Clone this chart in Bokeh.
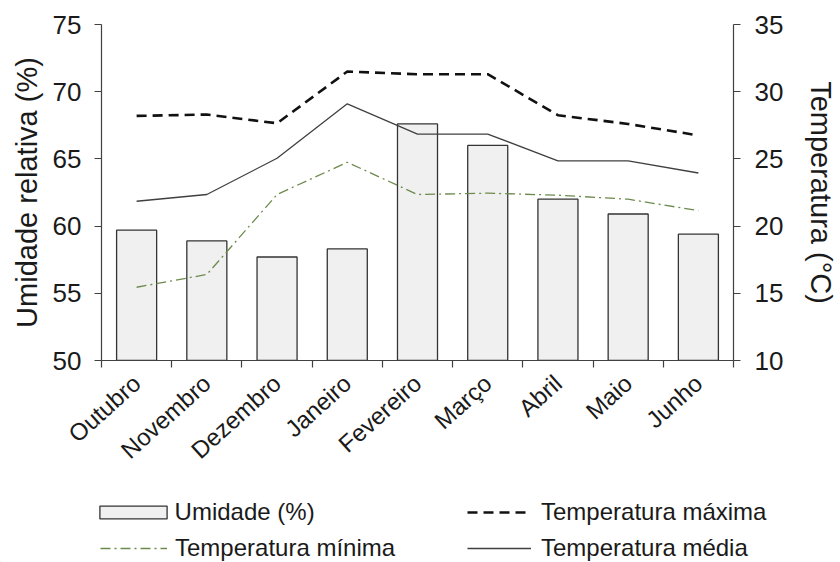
from bokeh.plotting import figure
from bokeh.layouts import column
from bokeh.models import Range1d, LinearAxis, FixedTicker, Legend, LegendItem
from bokeh.embed import file_html
from bokeh.resources import INLINE

months = ["Outubro", "Novembro", "Dezembro", "Janeiro", "Fevereiro",
          "Março", "Abril", "Maio", "Junho"]
umidade = [59.7, 58.9, 57.7, 58.3, 67.6, 66.0, 62.0, 60.9, 59.4]
t_max = [28.2, 28.3, 27.65, 31.5, 31.3, 31.3, 28.25, 27.6, 26.75]
t_med = [21.85, 22.35, 25.05, 29.1, 26.85, 26.85, 24.85, 24.85, 23.95]
t_min = [15.45, 16.4, 22.35, 24.75, 22.35, 22.45, 22.3, 22.0, 21.15]
left_ticks = [50, 55, 60, 65, 70, 75]
right_ticks = [10, 15, 20, 25, 30, 35]

FONT = "Liberation Sans"
AX = "#404040"
TXT = "#1a1a1a"

BAR_STYLE = dict(fill_color="#f0f0f0", line_color="#333333", line_width=1.3)
MAX_STYLE = dict(line_color="#111111", line_width=2.6, line_dash="10 6")
MED_STYLE = dict(line_color="#404040", line_width=1.3)
MIN_STYLE = dict(line_color="#6c8a4c", line_width=1.3, line_dash="10 4 2 4")

xc = [i + 0.5 for i in range(len(months))]

p = figure(width=840, height=477, output_backend="svg", toolbar_location=None,
           x_range=Range1d(0, len(months)), y_range=Range1d(50, 75),
           min_border_left=101, min_border_right=97, min_border_top=24,
           min_border_bottom=117, outline_line_color=None)
p.extra_y_ranges = {"temp": Range1d(10, 35)}
p.xgrid.visible = False
p.ygrid.visible = False

p.vbar(x=xc, top=umidade, bottom=50, width=0.57, **BAR_STYLE)
p.line(xc, t_max, y_range_name="temp", **MAX_STYLE)
p.line(xc, t_med, y_range_name="temp", **MED_STYLE)
p.line(xc, t_min, y_range_name="temp", **MIN_STYLE)

def style_axis(ax):
    ax.axis_line_color = AX
    ax.axis_line_width = 1.2
    ax.major_tick_line_color = AX
    ax.major_tick_line_width = 1.2
    ax.minor_tick_line_color = None
    ax.major_tick_in = 0
    ax.major_tick_out = 7
    ax.major_label_text_font = FONT
    ax.major_label_text_font_size = "26px"
    ax.major_label_text_color = TXT
    ax.axis_label_text_font = FONT
    ax.axis_label_text_font_size = "29px"
    ax.axis_label_text_font_style = "normal"
    ax.axis_label_text_color = TXT

yl = p.yaxis[0]
yl.ticker = FixedTicker(ticks=left_ticks)
yl.axis_label = "Umidade relativa (%)"
style_axis(yl)
yl.major_label_standoff = 13
yl.axis_label_standoff = 7

yr = LinearAxis(y_range_name="temp", ticker=FixedTicker(ticks=right_ticks),
                axis_label="Temperatura (°C)")
style_axis(yr)
yr.major_label_standoff = 14
yr.axis_label_standoff = 19
p.add_layout(yr, "right")

xa = p.xaxis[0]
xa.ticker = FixedTicker(ticks=xc, minor_ticks=list(range(len(months) + 1)))
xa.major_label_overrides = {c: m for c, m in zip(xc, months)}
style_axis(xa)
xa.major_tick_line_color = None
xa.minor_tick_line_color = AX
xa.minor_tick_line_width = 1.2
xa.minor_tick_in = 0
xa.minor_tick_out = 7
xa.major_label_text_font_size = "24px"
xa.major_label_orientation = 0.733
xa.major_label_standoff = 12

# legend strip below the chart (proxy renderers lie outside its ranges)
lf = figure(width=840, height=85, output_backend="svg", toolbar_location=None,
            x_range=Range1d(0, 840), y_range=Range1d(0, 85),
            x_axis_location=None, y_axis_location=None,
            min_border=0, outline_line_color=None)
if "frame_align" in lf.properties():
    lf.frame_align = False
    p.frame_align = False
lf.grid.visible = False
lb = lf.vbar(x=[-500], top=[-400], bottom=-500, width=1, **BAR_STYLE)
lmax = lf.line(x=[-500, -499], y=[-500, -500], **MAX_STYLE)
lmed = lf.line(x=[-500, -499], y=[-500, -500], **MED_STYLE)
lmin = lf.line(x=[-500, -499], y=[-500, -500], **MIN_STYLE)

def make_legend(label, rend, loc, gw, gh, standoff):
    lg = Legend(items=[LegendItem(label=label, renderers=[rend])], location=loc,
                glyph_width=gw, glyph_height=gh, label_height=gh,
                label_standoff=standoff, padding=0, margin=0, spacing=0,
                border_line_color=None, background_fill_alpha=0,
                label_text_font=FONT, label_text_font_size="24px",
                label_text_color=TXT)
    lf.add_layout(lg, "center")

make_legend("Umidade (%)", lb, (90.6, 36), 84, 16, 0)
make_legend("Temperatura mínima", lmin, (100, 0), 67, 28, 8)
make_legend("Temperatura máxima", lmax, (467, 36), 64, 28, 10)
make_legend("Temperatura média", lmed, (467, 0), 64, 28, 10)

layout = column(p, lf, spacing=0)
open("out.html", "w").write(file_html(layout, INLINE))
